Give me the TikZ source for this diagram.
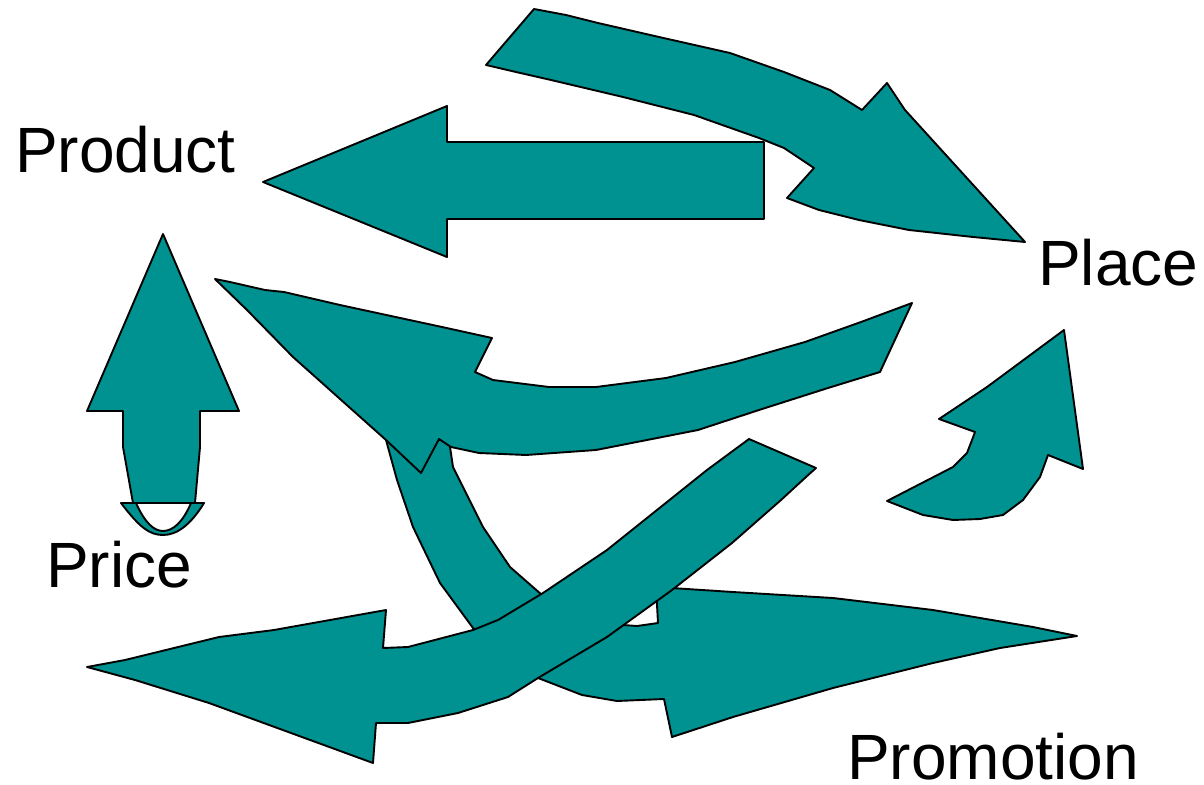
\documentclass[tikz,border=0pt]{standalone}
\usepackage{fontspec}
\setmainfont{Liberation Sans}
\tikzset{>=latex}
\definecolor{mixteal}{RGB}{0,145,145}
\tikzstyle{fatarrow}=[fill=mixteal,draw=black,line width=1.9pt,line join=round]
\tikzstyle{mixlabel}=[font=\fontsize{64}{70}\selectfont,anchor=base west,inner sep=0pt]

\begin{document}
\begin{tikzpicture}[x=1pt,y=-1pt]
  \useasboundingbox (0,0) rectangle (1204,784);
  % arrow to Place (top)
  \draw[fatarrow] (534,9) -- (566,15) -- (598,23) -- (659,37) -- (730,53) -- (784,72)
    -- (830,90) -- (862,110) -- (887,83) -- (905,110) -- (1025,242) -- (973,237)
    -- (909,230) -- (859,220) -- (819,210) -- (787,198) -- (814,168) -- (784,148)
    -- (759,138) -- (694,115) -- (623,97) -- (551,80) -- (516,72) -- (486,65) -- cycle;
  % straight arrow to Product
  \draw[fatarrow] (263,182) -- (447,106) -- (447,142) -- (764,142) -- (764,219)
    -- (447,219) -- (447,257) -- cycle;
  % up arrow from Price
  \draw[fatarrow] (163,234) -- (239,411) -- (200,411) -- (200,447) -- (195,503)
    -- (133,503) -- (123,447) -- (123,411) -- (87,411) -- cycle;
  \draw[fatarrow] (121,503) .. controls (140,528) and (150,535) .. (163,535)
    .. controls (176,535) and (190,526) .. (204,503) -- cycle;
  \draw[black,line width=1.9pt,fill=white] (136,503) .. controls (145,523) and (154,531) .. (163,531)
    .. controls (173,531) and (183,522) .. (191,503) -- cycle;
  % curved arrow to Promotion
  \draw[fatarrow] (386,440) -- (449,440) -- (453,467) -- (483,527) -- (510,567)
    -- (542,595) -- (580,615) -- (623,625) -- (637,626) -- (658,623) -- (656,587)
    -- (733,592) -- (833,598) -- (933,610) -- (1033,627) -- (1077,636) -- (1000,648)
    -- (933,663) -- (833,688) -- (733,717) -- (672,737) -- (664,699) -- (617,701)
    -- (582,695) -- (538,678) -- (500,655) -- (473,628) -- (440,583) -- (413,527)
    -- (397,480) -- cycle;
  % curved arrow back to the upper left
  \draw[fatarrow] (215,279) -- (230,282) -- (265,290) -- (284,292) -- (340,305)
    -- (442,327) -- (492,338) -- (475,372) -- (493,380) -- (549,387) -- (596,387)
    -- (666,378) -- (735,362) -- (805,342) -- (861,322) -- (912,303) -- (880,372)
    -- (828,388) -- (759,410) -- (698,430) -- (596,450) -- (526,455) -- (479,453)
    -- (451,447) -- (439,439) -- (421,473) -- (386,440) -- (293,357) -- (247,310) -- cycle;
  % big curved arrow to the lower left
  \draw[fatarrow] (749,439) -- (707,470) -- (657,510) -- (607,550) -- (543,593)
    -- (498,620) -- (473,630) -- (408,647) -- (383,648) -- (386,610) -- (274,630)
    -- (219,637) -- (125,660) -- (87,667) -- (135,680) -- (209,703) -- (373,763)
    -- (376,723) -- (408,723) -- (458,713) -- (508,697) -- (538,678) -- (607,637)
    -- (672,590) -- (732,543) -- (781,500) -- (806,477) -- (816,468) -- cycle;
  % small arrow up to Place
  \draw[fatarrow] (1064,330) -- (1083,469) -- (1048,455) -- (1040,477) -- (1023,500)
    -- (1003,515) -- (980,519) -- (953,520) -- (923,515) -- (887,501) -- (953,467)
    -- (967,453) -- (972,440) -- (975,432) -- (939,419) -- (987,387) -- cycle;
  \node[mixlabel] (product) at (15,172) {Product};
  \node[mixlabel] (place) at (1038,285) {Place};
  \node[mixlabel] (price) at (46,587) {Price};
  \node[mixlabel] (promotion) at (847,779) {Promotion};
\end{tikzpicture}
\end{document}
